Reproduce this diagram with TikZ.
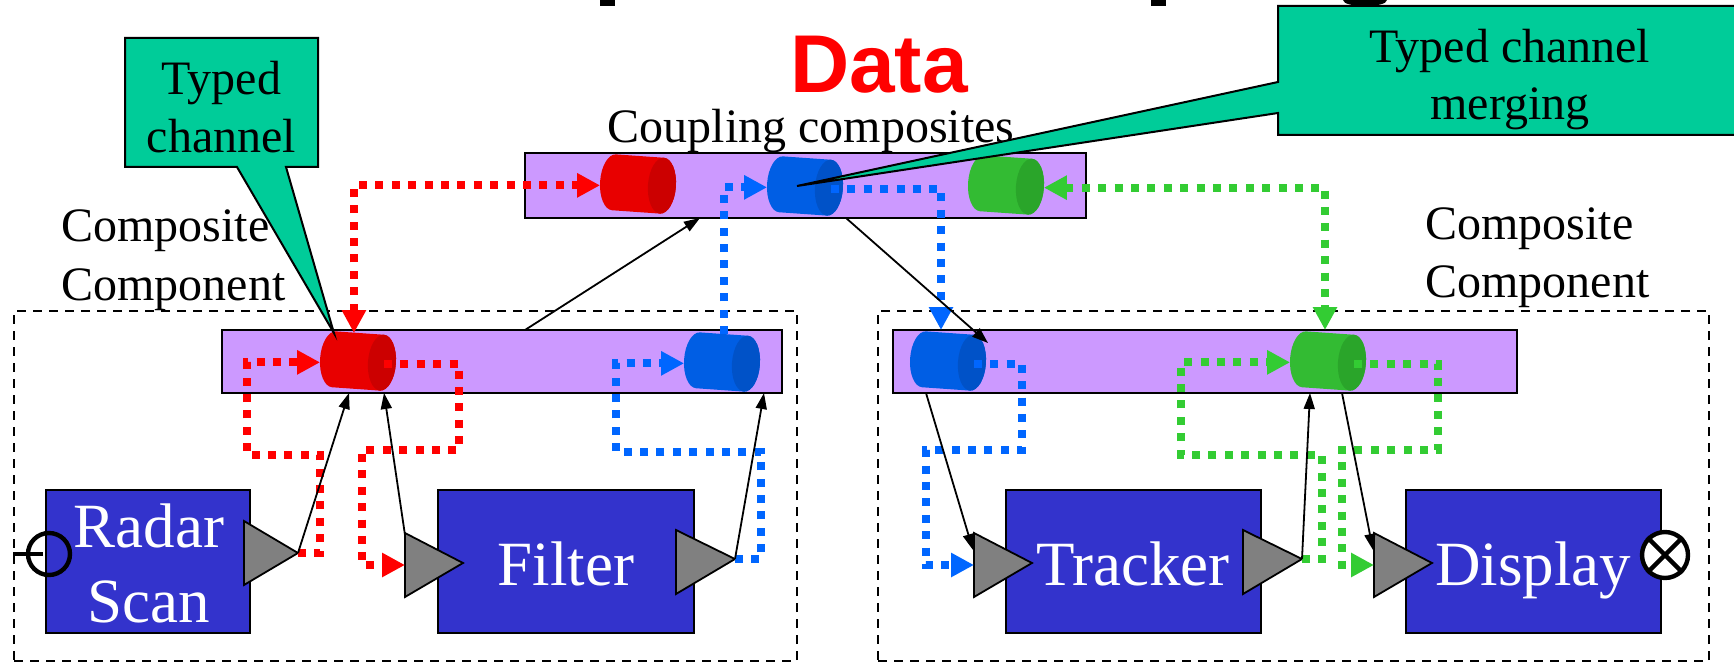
\documentclass[tikz,border=0pt]{standalone}
\usepackage{fontspec}
\setmainfont{Liberation Serif}
\newfontfamily\headfont{Liberation Sans}
\usetikzlibrary{arrows.meta}

\definecolor{busfill}{HTML}{CC99FF}
\definecolor{blockfill}{HTML}{3333CC}
\definecolor{notefill}{HTML}{00CC99}
\definecolor{portfill}{HTML}{808080}
\definecolor{chred}{HTML}{FF0000}
\definecolor{chblue}{HTML}{0066FF}
\definecolor{chgreen}{HTML}{33CC33}
\definecolor{cylred}{HTML}{E80000}
\definecolor{cylredend}{HTML}{CC0000}
\definecolor{cylblue}{HTML}{005EE4}
\definecolor{cylblueend}{HTML}{0052C8}
\definecolor{cylgreen}{HTML}{33BB33}
\definecolor{cylgreenend}{HTML}{2AA52A}

\tikzset{
  ftip/.tip={Triangle[length=11.5pt,width=11.5pt]},
  ktip/.tip={Triangle[length=8pt,width=5.5pt]},
  compframe/.style={rectangle, draw=black, line width=1.1pt, dash pattern=on 4.5pt off 3.5pt, inner sep=0pt, minimum height=175pt},
  bus/.style={rectangle, draw=black, line width=1.4pt, fill=busfill, inner sep=0pt},
  block/.style={rectangle, draw=black, line width=1.2pt, fill=blockfill, inner sep=0pt, minimum height=71.5pt},
  port/.style={draw=black, line width=0.9pt, fill=portfill},
  chan/.style={rectangle, rotate=-4, minimum width=38pt, minimum height=28pt, inner sep=0pt, outer sep=0pt},
  flow/.style={draw=ch#1, line width=4pt, dash pattern=on 4pt off 4.2pt},
  link/.style={draw=black, line width=0.9pt, -ktip},
  note/.style={draw=black, line width=1pt, fill=notefill},
  lbl/.style={inner sep=0pt, anchor=base, font=\fontsize{24}{29}\selectfont},
  wlbl/.style={inner sep=0pt, anchor=base, text=white, font=\fontsize{31.5}{38}\selectfont},
}

% a horizontal channel barrel drawn over the named node #1, colour family #2
\newcommand\chanbody[2]{%
  \begin{scope}[shift={(#1.center)}, rotate=-4]
    \fill[cyl#2] (-12pt,14pt) arc[start angle=90, end angle=270, x radius=7pt, y radius=14pt]
      -- (12pt,-14pt) arc[start angle=-90, end angle=90, x radius=7pt, y radius=14pt] -- cycle;
    \fill[cyl#2end] (12pt,0pt) ellipse[x radius=7pt, y radius=14pt];
  \end{scope}}

\begin{document}
\begin{tikzpicture}[x={(0.5pt,0)}, y={(0,-0.5pt)}]
\useasboundingbox (0,0) rectangle (1734,663);
\clip (0,0) rectangle (1734,663);
\fill[white] (0,0) rectangle (1734,663);

% descenders of the clipped headline
\fill (600,0) rectangle (615,6);
\fill (1151,0) rectangle (1166,6);
\fill (1343,0) .. controls (1343,8) and (1387,8) .. (1387,0) -- cycle;

% composite component frames
\node[compframe, minimum width=391.5pt] (lcomp) at (405.5,486) {};
\node[compframe, minimum width=415.5pt] (rcomp) at (1293.5,486) {};

% coupling buses
\node[bus, minimum width=280.5pt, minimum height=32.5pt] (tbus) at (805.5,185.5) {};
\node[bus, minimum width=280pt, minimum height=31.5pt] (lbus) at (502,361.5) {};
\node[bus, minimum width=312pt, minimum height=31.5pt] (rbus) at (1205,361.5) {};

% components
\node[block, minimum width=102pt] (radar) at (148,561.5) {};
\node[block, minimum width=128pt] (filter) at (566,561.5) {};
\node[block, minimum width=127.5pt] (tracker) at (1133.5,561.5) {};
\node[block, minimum width=127.5pt] (display) at (1533.5,561.5) {};

% ports
\filldraw[port] (244,521) -- (298,553) -- (244,585) -- cycle;
\filldraw[port] (405,533) -- (463,563) -- (405,597) -- cycle;
\filldraw[port] (676,530) -- (735,559) -- (676,594) -- cycle;
\filldraw[port] (974,533) -- (1032,563) -- (974,597) -- cycle;
\filldraw[port] (1243,530) -- (1302,559) -- (1243,594) -- cycle;
\filldraw[port] (1374,533) -- (1432,563) -- (1374,597) -- cycle;
\coordinate (rsOut) at (298,553);
\coordinate (fIn) at (405,565);
\coordinate (fInTop) at (405,535);
\coordinate (fOut) at (735,559);
\coordinate (tIn) at (974,565);
\coordinate (tInK) at (973,550);
\coordinate (tOut) at (1302,559);
\coordinate (dIn) at (1374,565);
\coordinate (dInK) at (1373,550);

% component labels
\node[wlbl] (radarA) at (149,547) {Radar};
\node[wlbl] (radarB) at (149,622) {Scan};
\node[wlbl] (filterT) at (566,585) {Filter};
\node[wlbl] (trackerT) at (1133,585) {Tracker};
\node[wlbl] (displayT) at (1533,585) {Display};

% external input and output
\node[circle, draw=black, line width=2.2pt, minimum size=21pt, inner sep=0pt] (scanIn) at (49,554) {};
\draw[line width=2pt] ([xshift=-18pt]scanIn.center) -- ([xshift=-3pt]scanIn.center);
\node[circle, draw=black, fill=white, line width=2.2pt, minimum size=23pt, inner sep=0pt] (showOut) at (1665,555) {};
\draw[line width=2.2pt] (showOut.north east) -- (showOut.south west)
                        (showOut.north west) -- (showOut.south east);

% typed channels
\node[chan] (cRt) at (638,184) {};
\node[chan] (cBt) at (805,186) {};
\node[chan] (cGt) at (1006,185) {};
\node[chan] (cRl) at (358,361) {};
\node[chan] (cBl) at (722,362) {};
\node[chan] (cBr) at (948,361) {};
\node[chan] (cGr) at (1328,361) {};
\chanbody{cRt}{red}
\chanbody{cBt}{blue}
\chanbody{cGt}{green}
\chanbody{cRl}{red}
\chanbody{cBl}{blue}
\chanbody{cBr}{blue}
\chanbody{cGr}{green}

% data flows
\coordinate (rbBlue) at (941,330);
\coordinate (rbGreen) at (1325,330);
\draw[flow=red, ftip-ftip] ([xshift=-3pt]cRl.north) |- ([yshift=-2pt]cRt.west);
\draw[flow=red, -ftip] (rsOut) -| (320,455) -- (247,455) |- ([yshift=-2pt]cRl.west);
\draw[flow=red, -ftip] ([xshift=-6pt]cRl.east) -| (459,450) -- (362,450) |- (fIn);
\draw[flow=blue, -ftip] (cBl.north) |- ([yshift=-2pt]cBt.west);
\draw[flow=blue, -ftip] ([xshift=-6pt]cBt.east) -| (rbBlue);
\draw[flow=blue, -ftip] (fOut) -| (761,452) -- (616,452) |- ([yshift=-2pt]cBl.west);
\draw[flow=blue, -ftip] ([xshift=-6pt]cBr.east) -| (1022,450) -- (926,450) |- (tIn);
\draw[flow=green, ftip-ftip] (cGt.east) -| (rbGreen);
\draw[flow=green, -ftip] (tOut) -| (1322,455) -- (1181,455) |- ([yshift=-2pt]cGr.west);
\draw[flow=green, -ftip] ([xshift=-6pt]cGr.east) -| (1438,450) -- (1342,450) |- (dIn);

% bindings
\coordinate (lbUp) at (525,330);
\coordinate (tbIn) at (700,218);
\coordinate (tbOut) at (846,218);
\coordinate (rbIn) at (988,343);
\coordinate (lbA) at (349,393);
\coordinate (lbB) at (384,393);
\coordinate (lbC) at (764,393);
\coordinate (rbA) at (926,393);
\coordinate (rbB) at (1310,393);
\coordinate (rbC) at (1342,393);
\draw[link] (lbUp) -- (tbIn);
\draw[link] (tbOut) -- (rbIn);
\draw[link] (rsOut) -- (lbA);
\draw[link] (fInTop) -- (lbB);
\draw[link] (fOut) -- (lbC);
\draw[link] (rbA) -- (tInK);
\draw[link] (tOut) -- (rbB);
\draw[link] (rbC) -- (dInK);

% headings
\node[lbl, text=red, font=\headfont\bfseries\fontsize{41}{48}\selectfont] (head) at (879,93) {Data};
\node[lbl] (cplLbl) at (811,143) {Coupling composites};
\node[lbl, anchor=base west] (lcA) at (61,242) {Composite};
\node[lbl, anchor=base west] (lcB) at (61,300) {Component};
\node[lbl, anchor=base west] (rcA) at (1425,240) {Composite};
\node[lbl, anchor=base west] (rcB) at (1425,298) {Component};

% callouts
\draw[note] (125,38) -- (318,38) -- (318,167) -- (286,167) -- ([xshift=-13pt]cRl.north)
  -- (237,167) -- (125,167) -- cycle;
\node[lbl] (n1a) at (221.5,95) {Typed};
\node[lbl] (n1b) at (221.5,153) {channel};
\draw[note] (1278,6) -- (1745,6) -- (1745,135) -- (1278,135) -- (1278,113)
  -- ([xshift=-4pt]cBt.center) -- (1278,82) -- cycle;
\node[lbl] (n2a) at (1510,63) {Typed channel};
\node[lbl] (n2b) at (1510,120) {merging};
\end{tikzpicture}
\end{document}
